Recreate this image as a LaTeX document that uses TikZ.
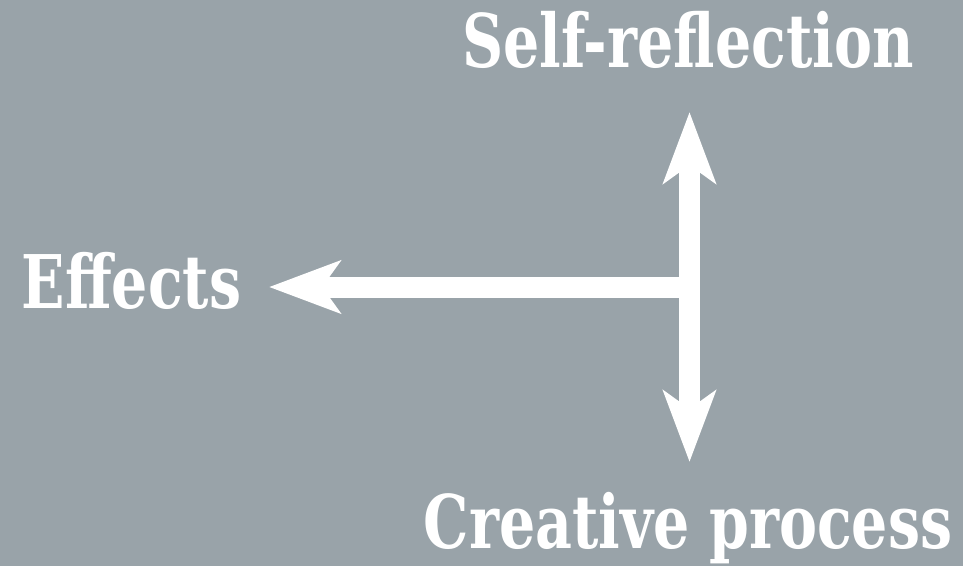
\documentclass[tikz,border=0pt]{standalone}
\usepackage{fontspec}
\newfontfamily\labfont[FakeStretch=0.77]{DejaVu Serif}
\usetikzlibrary{arrows.meta}
\definecolor{bggray}{RGB}{153,163,169}
\tikzset{
  lab/.style={text=white, inner sep=0pt, anchor=base, font=\labfont\bfseries\fontsize{74}{80}\selectfont},
  bigarrow/.style={draw=white, line width=21pt},
  bighead/.tip={Stealth[length=71pt, width=52pt, inset=18pt]}
}
\begin{document}
\begin{tikzpicture}[x=1pt,y=-1pt]
\fill[bggray] (0,0) rectangle (963,566);
\useasboundingbox (0,0) rectangle (963,566);
\node[lab] (self) at (688,67) {Self-reflection};
\node[lab] (eff) at (131.5,308) {Effects};
\node[lab] (crea) at (688,548) {Creative process};
\coordinate (junc) at (680,287);
\coordinate (tipU) at (689.5,112);
\coordinate (tipD) at (689.5,462);
\coordinate (tipL) at (269,287);
\draw[bigarrow, bighead-bighead] (tipU) -- (tipD);
\draw[bigarrow, -bighead] (junc) -- (tipL);
\end{tikzpicture}
\end{document}
